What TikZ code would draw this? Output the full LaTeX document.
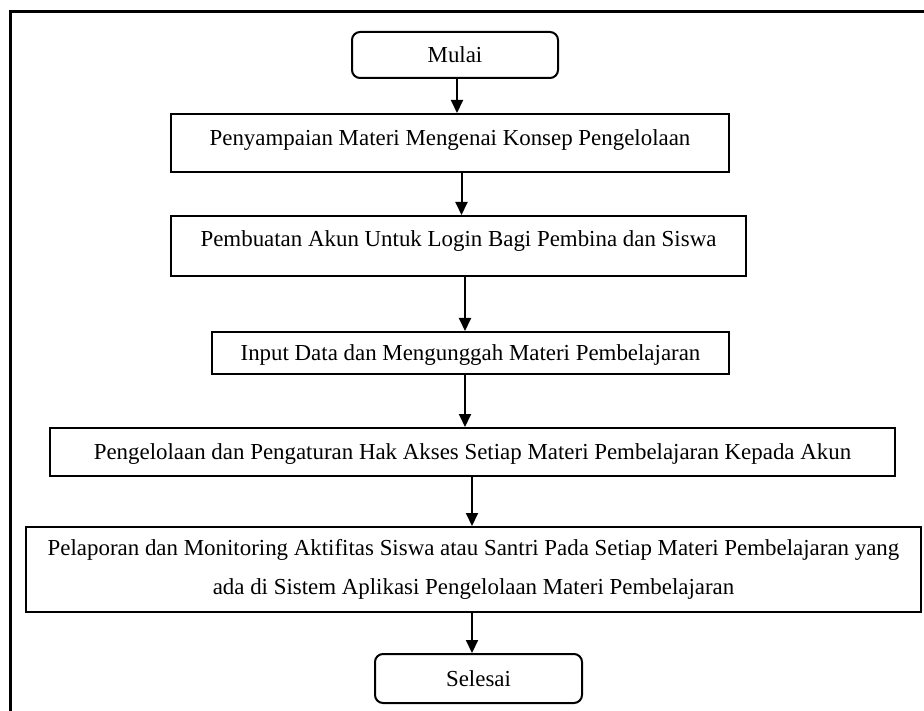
\documentclass[tikz,border=0pt]{standalone}
\usepackage{fontspec}
\setmainfont{Liberation Serif}
\usetikzlibrary{arrows.meta}
\begin{document}
\begin{tikzpicture}[x=1pt,y=-1pt,
  every node/.style={font=\fontsize{22.9}{39}\selectfont, inner sep=0pt},
  box/.style={draw, line width=2pt, rectangle},
  term/.style={draw, line width=2pt, rectangle, rounded corners=8pt},
  arr/.style={line width=2pt, -{Triangle[length=13pt,width=12pt]}}]
\useasboundingbox (0,0) rectangle (924,711);
\fill[white] (0,0) rectangle (924,711);
% outer frame (partly outside the picture)
\draw[line width=3pt] (10.5,711) -- (10.5,11.5) -- (924,11.5);
% nodes
\node[term, minimum width=206pt, minimum height=46pt] (m) at (455,55) {Mulai};
\node[box, minimum width=558pt, minimum height=58pt, text height=14pt, text depth=8.6pt] (b1) at (450,143)
  {Penyampaian Materi Mengenai Konsep Pengelolaan};
\node[box, minimum width=575pt, minimum height=60pt, text height=14pt, text depth=12.6pt] (b2) at (458.5,246)
  {Pembuatan Akun Untuk Login Bagi Pembina dan Siswa};
\node[box, minimum width=517pt, minimum height=42pt, text height=20pt, text depth=4pt] (b3) at (470.5,353)
  {Input Data dan Mengunggah Materi Pembelajaran};
\node[box, minimum width=845pt, minimum height=48pt, text height=18.6pt, text depth=4pt] (b4) at (472.5,452)
  {Pengelolaan dan Pengaturan Hak Akses Setiap Materi Pembelajaran Kepada Akun};
\node[box, minimum width=895pt, minimum height=85pt, align=center] (b5) at (473.5,569.5)
  {Pelaporan dan Monitoring Aktifitas Siswa atau Santri Pada Setiap Materi Pembelajaran yang\\
   ada di Sistem Aplikasi Pengelolaan Materi Pembelajaran};
\node[term, minimum width=207pt, minimum height=49pt] (s) at (478.5,678.5) {Selesai};
% connectors
\draw[arr] ([xshift=2pt]m.south) -- ([xshift=7pt]b1.north);
\draw[arr] ([xshift=11.5pt]b1.south) -- ([xshift=3pt]b2.north);
\draw[arr] ([xshift=6.5pt]b2.south) -- ([xshift=-5.5pt]b3.north);
\draw[arr] ([xshift=-5.5pt]b3.south) -- ([xshift=-7.5pt]b4.north);
\draw[arr] ([xshift=-0.5pt]b4.south) -- ([xshift=-1.5pt]b5.north);
\draw[arr] ([xshift=-1.5pt]b5.south) -- ([xshift=-6.5pt]s.north);
\end{tikzpicture}
\end{document}
